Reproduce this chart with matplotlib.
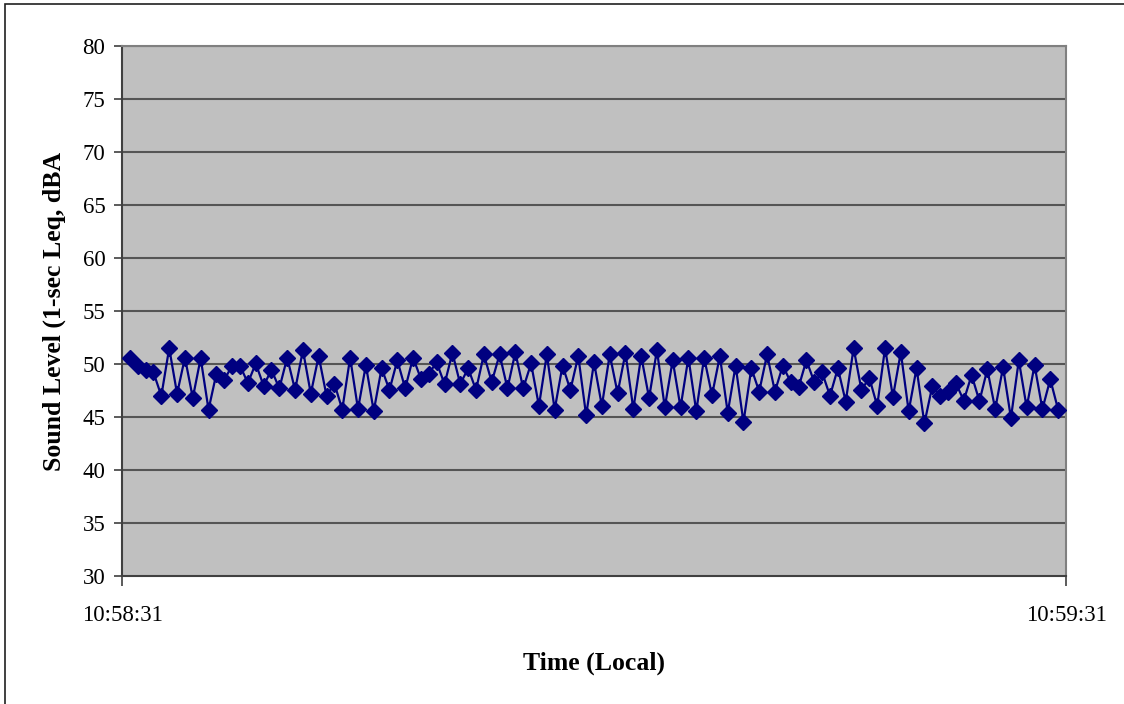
import matplotlib
matplotlib.use("Agg")
import matplotlib.pyplot as plt
import matplotlib.dates as mdates
from matplotlib.patches import Rectangle
import pandas as pd

# 1-sec Leq readings, sampled every half second from 10:58:31.5
levels = [
    50.6, 49.85, 49.45, 49.2, 47.0, 51.5, 47.2, 50.6, 46.8, 50.55,
    45.7, 49.1, 48.5, 49.85, 49.85, 48.2, 50.05, 47.95, 49.45, 47.7,
    50.6, 47.55, 51.3, 47.2, 50.75, 47.0, 48.15, 45.7, 50.6, 45.75,
    49.9, 45.55, 49.6, 47.55, 50.35, 47.7, 50.6, 48.6, 49.1, 50.15,
    48.1, 51.05, 48.1, 49.6, 47.55, 50.9, 48.3, 50.9, 47.7, 51.1,
    47.7, 50.05, 46.05, 50.9, 45.7, 49.85, 47.55, 50.75, 45.15, 50.15,
    46.05, 50.9, 47.25, 51.05, 45.75, 50.75, 46.8, 51.3, 45.9, 50.35,
    45.9, 50.6, 45.55, 50.6, 47.05, 50.75, 45.4, 49.85, 44.5, 49.6,
    47.4, 50.9, 47.4, 49.85, 48.3, 47.8, 50.35, 48.3, 49.2, 47.0,
    49.6, 46.45, 51.5, 47.55, 48.7, 46.05, 51.5, 46.9, 51.1, 45.55,
    49.6, 44.4, 47.9, 47.0, 47.4, 48.2, 46.55, 48.95, 46.5, 49.5,
    45.75, 49.7, 44.9, 50.35, 45.9, 49.9, 45.75, 48.55, 45.7,
]
start_time = "2000-01-01 10:58:31"
end_time = "2000-01-01 10:59:31"
times = pd.date_range("2000-01-01 10:58:31.5", periods=len(levels), freq="500ms")
y_ticks = [30, 35, 40, 45, 50, 55, 60, 65, 70, 75, 80]

plt.rcParams['font.family'] = ['Liberation Serif', 'DejaVu Serif']

fig = plt.figure(figsize=(11.24, 7.04), dpi=100)
ax = fig.add_axes([122/1124, 1 - 576/704, (1066 - 122)/1124, (576 - 46)/704])

# outer chart frame (only left/top visible in the crop)
fig.patches.append(Rectangle((5/1124, -0.2), 2.0, 1.2 - 4/704, transform=fig.transFigure,
                             fill=False, edgecolor='#202020', linewidth=1.2))

ax.set_facecolor('#c0c0c0')
ax.plot(times, levels, color='#000080', linewidth=1.6, marker='D', markersize=8.5,
        markerfacecolor='#000080', markeredgecolor='#000080', zorder=3)

t0 = pd.Timestamp(start_time)
t1 = pd.Timestamp(end_time)
ax.set_xlim(t0, t1)
ax.set_ylim(30, 80)
ax.set_yticks(y_ticks)
ax.set_xticks([t0, t1])
ax.xaxis.set_major_formatter(mdates.DateFormatter('%H:%M:%S'))

for v in y_ticks[1:]:
    ax.axhline(v, color='#555555', linewidth=1.5, zorder=1)

for side in ['top', 'right']:
    ax.spines[side].set_color('#808080')
    ax.spines[side].set_linewidth(1.5)
for side in ['left', 'bottom']:
    ax.spines[side].set_color('#404040')
    ax.spines[side].set_linewidth(1.5)

ax.tick_params(axis='y', direction='out', length=6, width=1.2, color='#404040',
               labelsize=16.5, pad=6)
ax.tick_params(axis='x', direction='out', length=7, width=1.2, color='#404040',
               labelsize=16.5, pad=14)

ax.set_ylabel('Sound Level (1-sec Leq, dBA', fontsize=18.5, fontweight='bold', labelpad=12)
ax.set_xlabel('Time (Local)', fontsize=18.5, fontweight='bold', labelpad=18)

fig.savefig('out.png', dpi=100)
